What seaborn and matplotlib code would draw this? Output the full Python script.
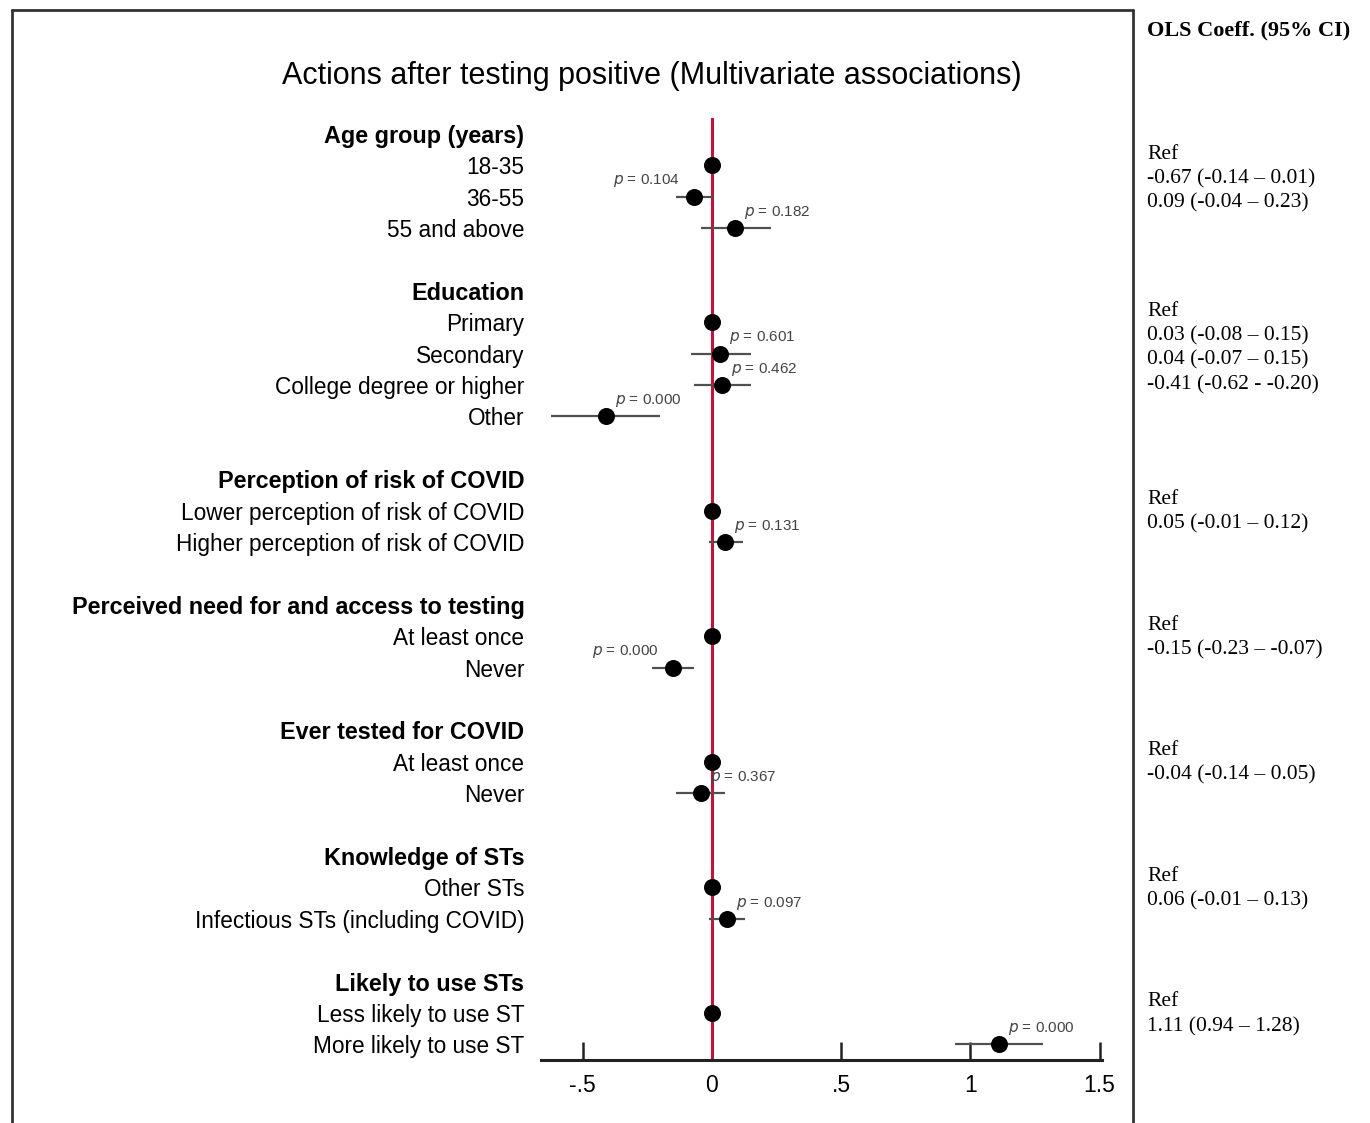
import numpy as np
import pandas as pd
import matplotlib
matplotlib.use("Agg")
import matplotlib.pyplot as plt
from matplotlib.lines import Line2D
import seaborn as sns

# data
groups = ["Age group (years)", "Education", "Perception of risk of COVID",
          "Perceived need for and access to testing", "Ever tested for COVID",
          "Knowledge of STs", "Likely to use STs"]
levels = [["18-35", "36-55", "55 and above"],
          ["Primary", "Secondary", "College degree or higher", "Other"],
          ["Lower perception of risk of COVID", "Higher perception of risk of COVID"],
          ["At least once", "Never"],
          ["At least once", "Never"],
          ["Other STs", "Infectious STs (including COVID)"],
          ["Less likely to use ST", "More likely to use ST"]]
coef = [[0, -0.07, 0.09], [0, 0.03, 0.04, -0.41], [0, 0.05], [0, -0.15],
        [0, -0.04], [0, 0.06], [0, 1.11]]
ci_lo = [[None, -0.14, -0.04], [None, -0.08, -0.07, -0.62], [None, -0.01], [None, -0.23],
         [None, -0.14], [None, -0.01], [None, 0.94]]
ci_hi = [[None, 0.01, 0.23], [None, 0.15, 0.15, -0.20], [None, 0.12], [None, -0.07],
         [None, 0.05], [None, 0.13], [None, 1.28]]
pvals = [[None, "0.104", "0.182"], [None, "0.601", "0.462", "0.000"], [None, "0.131"],
         [None, "0.000"], [None, "0.367"], [None, "0.097"], [None, "0.000"]]
ci_text = [["Ref", "-0.67 (-0.14 \u2013 0.01)", "0.09 (-0.04 \u2013 0.23)"],
           ["Ref", "0.03 (-0.08 \u2013 0.15)", "0.04 (-0.07 \u2013 0.15)", "-0.41 (-0.62 - -0.20)"],
           ["Ref", "0.05 (-0.01 \u2013 0.12)"],
           ["Ref", "-0.15 (-0.23 \u2013 -0.07)"],
           ["Ref", "-0.04 (-0.14 \u2013 0.05)"],
           ["Ref", "0.06 (-0.01 \u2013 0.13)"],
           ["Ref", "1.11 (0.94 \u2013 1.28)"]]
xticks = [-0.5, 0, 0.5, 1, 1.5]
xtick_labels = ["-.5", "0", ".5", "1", "1.5"]
title = "Actions after testing positive (Multivariate associations)"
right_title = "OLS Coeff. (95% CI)"

# build row table: header row, level rows, blank row
rows = []
pos = 0
for gi, g in enumerate(groups):
    rows.append(dict(pos=pos, label=g, header=True, group=g))
    pos += 1
    for li, lv in enumerate(levels[gi]):
        rows.append(dict(pos=pos, label=lv, header=False, group=g, coef=coef[gi][li],
                         lo=ci_lo[gi][li], hi=ci_hi[gi][li], p=pvals[gi][li],
                         txt=ci_text[gi][li], first=(li == 0)))
        pos += 1
    pos += 1
df = pd.DataFrame(rows)
pts = df[~df.header].copy()
nrows = pos - 1

sns.set_theme(style="white")
plt.rcParams['font.family'] = ['Liberation Sans', 'DejaVu Sans']
plt.rcParams['text.color'] = 'black'
plt.rcParams['xtick.color'] = 'black'
plt.rcParams['ytick.color'] = 'black'

fig = plt.figure(figsize=(13.7, 11.23), dpi=100)
ax = fig.add_axes([0.395, 0.0561, 0.4095, 0.8388])

ax.axvline(0, color="#c0143c", lw=2.2, zorder=1)
ci = pts.dropna(subset=["lo"])
ax.hlines(ci["pos"], ci["lo"], ci["hi"], color="#505050", lw=1.6, zorder=2)
sns.scatterplot(data=pts, x="coef", y="pos", color="black", s=150, edgecolor="black",
                linewidth=0, ax=ax, zorder=3, legend=False)

left_side = {("Age group (years)", "36-55"),
             ("Perceived need for and access to testing", "Never")}
for _, r in ci.iterrows():
    if (r["group"], r["label"]) in left_side:
        x, ha = r["coef"] - 0.055, "right"
    else:
        x, ha = r["coef"] + 0.035, "left"
    ax.text(x, r["pos"] - 0.5, r"$\mathit{p}$ = " + r["p"], ha=ha, va="center",
            fontsize=11, color="#444444")

ax.set_xlim(-0.66, 1.51)
ax.set_ylim(nrows - 0.5, -0.5)
ax.set_yticks(df["pos"])
ax.set_yticklabels(df["label"], fontsize=16.3)
for t, h in zip(ax.get_yticklabels(), df["header"]):
    if h:
        t.set_fontweight("bold")
        t.set_fontsize(16.8)
ax.tick_params(axis="y", length=0, pad=12)
ax.set_xticks(xticks)
ax.set_xticklabels(xtick_labels, fontsize=16.5)
ax.tick_params(axis="x", bottom=True, direction="in", length=13, width=1.8,
               color="#222222", pad=10)
ax.set_xlabel("")
ax.set_ylabel("")
for s in ["top", "right", "left"]:
    ax.spines[s].set_visible(False)
ax.spines["bottom"].set_linewidth(2.2)
ax.spines["bottom"].set_color("#222222")

fig.text(652 / 1370, 1 - 76 / 1123, title, ha="center", va="center", fontsize=22)

# right-hand table
ax2 = fig.add_axes([1147 / 1370, 0.0561, 0.15, 0.8388])
ax2.set_ylim(ax.get_ylim())
ax2.set_xlim(0, 1)
ax2.axis("off")
for gi, g in enumerate(groups):
    first = pts[(pts.group == g) & pts["first"]]["pos"].iloc[0]
    for k, line in enumerate(ci_text[gi]):
        ax2.text(0, first - 0.35 + k * 0.78, line, ha="left", va="center",
                 fontsize=15.5, family="Liberation Serif")
fig.text(1147 / 1370, 1 - 30 / 1123, right_title, ha="left", va="center",
         fontsize=16, fontweight="bold", family="Liberation Serif")

# frame lines
def fx(p):
    return p / 1370
def fy(p):
    return 1 - p / 1123
for xs, ys in [([fx(12), fx(12)], [fy(10), 0]),
               ([fx(12), fx(1133)], [fy(10), fy(10)]),
               ([fx(1133), fx(1133)], [fy(10), 0])]:
    fig.add_artist(Line2D(xs, ys, color="#333333", lw=2, transform=fig.transFigure))

fig.savefig("out.png", dpi=100)
